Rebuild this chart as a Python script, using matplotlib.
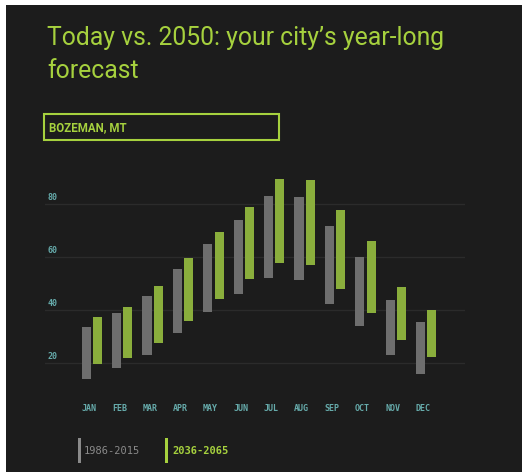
import matplotlib.pyplot as plt
from matplotlib.patches import Rectangle
import numpy as np

# monthly temperature ranges (deg F)
months = ["JAN", "FEB", "MAR", "APR", "MAY", "JUN", "JUL", "AUG", "SEP", "OCT", "NOV", "DEC"]
today_low = [13.8, 18.0, 22.9, 31.2, 39.1, 46.2, 52.1, 51.2, 42.2, 33.8, 23.1, 15.8]
today_high = [33.7, 38.8, 45.3, 55.4, 64.9, 73.8, 83.0, 82.6, 71.8, 60.0, 43.9, 35.4]
future_low = [19.5, 22.0, 27.7, 35.8, 44.0, 51.6, 57.8, 57.0, 47.9, 39.0, 28.7, 22.2]
future_high = [37.4, 41.2, 48.9, 59.5, 69.4, 78.9, 89.3, 88.9, 77.6, 65.9, 48.7, 40.0]
yticks = [20, 40, 60, 80]
legend_labels = ["1986-2015", "2036-2065"]

BG = "#1c1c1c"
GRAY = "#6e6e6e"
GREEN = "#8aae3c"
LIME = "#a6d13e"
TEAL = "#66abab"

W, H = 522, 472
fig = plt.figure(figsize=(W / 100, H / 100), dpi=100)
fig.patch.set_facecolor("white")
# dark panel (screenshot has a thin white edge top/left)
fig.add_artist(Rectangle((6 / W, 0), 1, 1 - 5 / H, transform=fig.transFigure,
                         facecolor=BG, edgecolor="none", zorder=-10))

def px(x, y):
    # pixel coords (top-left origin) -> figure fraction
    return x / W, 1 - y / H

# title
fig.text(*px(47, 45), "Today vs. 2050: your city\u2019s year-long", color=LIME,
         fontsize=17.8, family="Roboto", va="baseline")
fig.text(*px(47, 78), "forecast", color=LIME, fontsize=17.8, family="Roboto", va="baseline")

# city box
fig.add_artist(Rectangle(px(44, 140), 235 / W, 26 / H, transform=fig.transFigure,
                         facecolor="none", edgecolor=LIME, linewidth=1.5))
fig.text(*px(49, 127.5), "BOZEMAN, MT", color=LIME, fontsize=8.3, family="Roboto",
         fontweight="bold", va="center")

# chart axes
ax = fig.add_axes([45 / W, 1 - 385 / H, 420 / W, 215 / H])
ax.set_facecolor("none")
ax.set_xlim(-1.546, 12.27)
ax.set_ylim(11.7, 92.8)

x = np.arange(len(months))
lo1, hi1 = np.array(today_low), np.array(today_high)
lo2, hi2 = np.array(future_low), np.array(future_high)
ax.bar(x - 0.19, hi1 - lo1, bottom=lo1, width=0.3, color=GRAY, zorder=3)
ax.bar(x + 0.18, hi2 - lo2, bottom=lo2, width=0.3, color=GREEN, zorder=3)

for t in yticks:
    ax.axhline(t, color="#2b2b2b", linewidth=1, zorder=1)
    ax.text(-1.47, t + 0.9, str(t), color=TEAL, fontsize=6, family="DejaVu Sans Mono",
            fontweight="bold", va="bottom", ha="left")

for s in ax.spines.values():
    s.set_visible(False)
ax.set_yticks([])
ax.set_xticks(x - 0.1)
ax.set_xticklabels(months, color=TEAL, fontsize=6, family="DejaVu Sans Mono", fontweight="bold")
ax.tick_params(axis="x", length=0, pad=14)

# legend
fig.add_artist(Rectangle(px(78, 463), 3 / W, 25 / H, transform=fig.transFigure,
                         facecolor="#8a8a8a", edgecolor="none"))
fig.text(*px(84, 451), legend_labels[0], color="#8a8a8a", fontsize=7.5,
         family="DejaVu Sans Mono", va="center")
fig.add_artist(Rectangle(px(165, 463), 3 / W, 25 / H, transform=fig.transFigure,
                         facecolor=LIME, edgecolor="none"))
fig.text(*px(172, 451), legend_labels[1], color=LIME, fontsize=7.5,
         family="DejaVu Sans Mono", fontweight="bold", va="center")

fig.savefig("out.png", dpi=100, facecolor=fig.get_facecolor())
